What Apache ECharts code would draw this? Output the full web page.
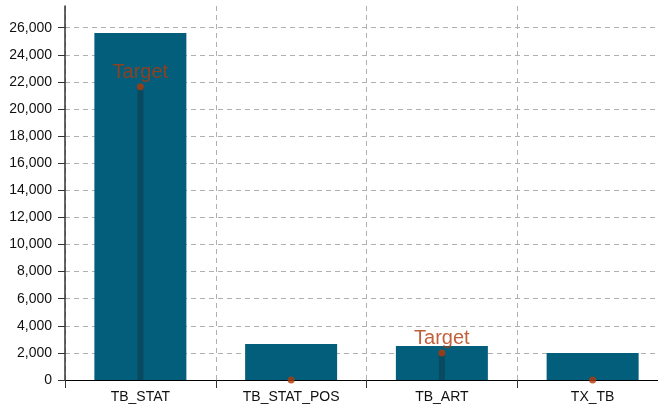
<!DOCTYPE html>
<html><head><meta charset="utf-8">
<script src="https://cdn.jsdelivr.net/npm/echarts@6/dist/echarts.min.js"></script>
<style>html,body{margin:0;padding:0;background:#fff}#c{width:658px;height:407px}</style>
</head><body><div id="c"></div>
<script>
const categories = ['TB_STAT', 'TB_STAT_POS', 'TB_ART', 'TX_TB'];
const actualValues = [25600, 2650, 2500, 2000];
const targetValues = [21650, 0, 2000, 0];
const targetLabels = ['Target', '', 'Target', ''];
const yTicks = { min: 0, max: 27600, interval: 2000 };

const font = 'Liberation Sans, Arial, sans-serif';
const chart = echarts.init(document.getElementById('c'), null, { renderer: 'canvas' });
chart.setOption({
  animation: false,
  grid: { left: 65, top: 6, right: -10, bottom: 27, containLabel: false, outerBoundsMode: 'none' },
  xAxis: [{
    type: 'category', data: categories,
    axisLine: { lineStyle: { color: '#000', width: 1 } },
    axisTick: { show: true, length: 8, lineStyle: { color: '#333' } },
    axisLabel: { color: '#111', fontSize: 14, fontFamily: font, margin: 10 },
    splitLine: { show: true, lineStyle: { color: '#b0b0b0', type: [5, 4] } }
  }, {
    type: 'category', data: categories, show: false
  }],
  yAxis: {
    type: 'value', min: yTicks.min, max: yTicks.max, interval: yTicks.interval,
    axisLine: { show: true, lineStyle: { color: '#333', width: 1.5 } },
    axisTick: { show: true, length: 7, lineStyle: { color: '#333' } },
    axisLabel: { color: '#111', fontSize: 14, fontFamily: font, margin: 13, showMaxLabel: false,
      formatter: v => v.toLocaleString('en-US') },
    splitLine: { show: true, showMaxLine: false, lineStyle: { color: '#b0b0b0', type: [5, 4] } }
  },
  series: [{
    type: 'bar', data: actualValues, barWidth: 92, xAxisIndex: 0,
    itemStyle: { color: '#035e7b' }
  }, {
    type: 'bar', data: targetValues, barWidth: 6, xAxisIndex: 1,
    itemStyle: { color: '#0a4a60' }, z: 3
  }, {
    type: 'scatter', data: targetValues, xAxisIndex: 1, symbolSize: 7, z: 4,
    itemStyle: { color: '#b23a08' },
    label: { show: true, position: 'top', distance: 1, color: '#b03a0a', fontSize: 20, fontFamily: font,
      formatter: p => targetLabels[p.dataIndex] }
  }]
});
</script></body></html>
